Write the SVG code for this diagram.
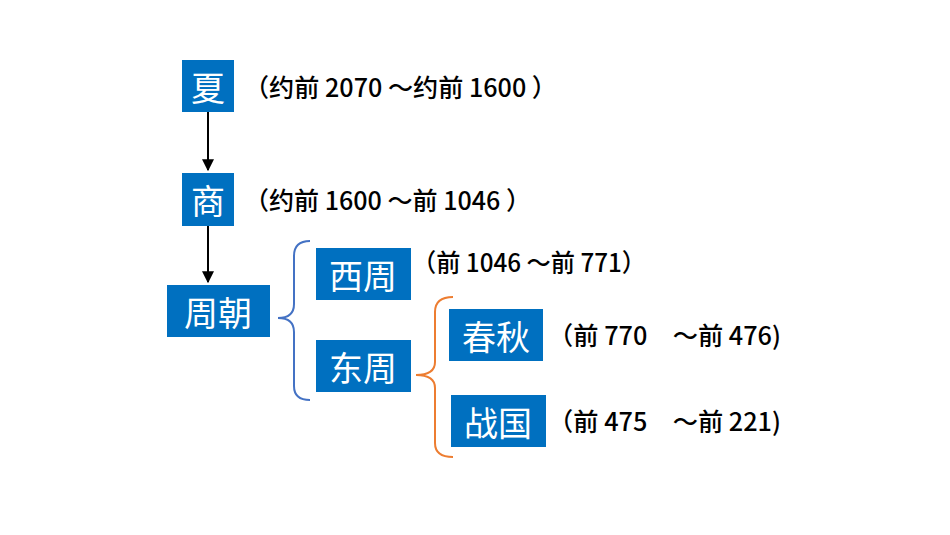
<svg xmlns="http://www.w3.org/2000/svg" width="950" height="535" viewBox="0 0 950 535">
<defs>
<style>
.box{fill:#0070C0}
.bt{fill:#fff;font-family:"Noto Sans CJK SC",serif;font-size:34px;text-anchor:middle;dominant-baseline:central}
.lt{fill:#000;font-family:"Noto Sans CJK SC","Liberation Sans",sans-serif;font-size:25px;font-weight:500;dominant-baseline:central}
.ar{stroke:#000;stroke-width:2;fill:none}
</style>
<marker id="ah" viewBox="0 0 10 10" refX="9" refY="5" markerWidth="6" markerHeight="6" orient="auto"><path d="M0,0L10,5L0,10z" fill="#000"/></marker>
</defs>
<rect width="950" height="535" fill="#fff"/>
<g id="xia"><rect class="box" x="182" y="60" width="52" height="52"/><text class="bt" x="208" y="86">夏</text><text class="lt" x="244" y="86" textLength="313" lengthAdjust="spacingAndGlyphs">（约前 2070 ～约前 1600 ）</text></g>
<g id="shang"><rect class="box" x="182" y="173" width="52" height="53"/><text class="bt" x="208" y="199">商</text><text class="lt" x="244" y="199" textLength="287" lengthAdjust="spacingAndGlyphs">（约前 1600 ～前 1046 ）</text></g>
<g id="zhouchao"><rect class="box" x="167" y="285" width="103" height="52"/><text class="bt" x="218" y="311">周朝</text></g>
<g id="xizhou"><rect class="box" x="316" y="248" width="95" height="52"/><text class="bt" x="363" y="274">西周</text><text class="lt" x="412" y="261" textLength="234" lengthAdjust="spacingAndGlyphs">（前 1046 ～前 771）</text></g>
<g id="dongzhou"><rect class="box" x="316" y="340" width="95" height="52"/><text class="bt" x="363" y="366">东周</text></g>
<g id="chunqiu"><rect class="box" x="449" y="309" width="94" height="52"/><text class="bt" x="496" y="335">春秋</text><text class="lt" x="548" y="334" textLength="233" lengthAdjust="spacingAndGlyphs">（前 770　～前 476)</text></g>
<g id="zhanguo"><rect class="box" x="451" y="395" width="95" height="52"/><text class="bt" x="498" y="421">战国</text><text class="lt" x="548" y="420" textLength="233" lengthAdjust="spacingAndGlyphs">（前 475　～前 221)</text></g>
<g id="connectors">
<line class="ar" x1="208" y1="112" x2="208" y2="170" marker-end="url(#ah)"/>
<line class="ar" x1="208" y1="226" x2="208" y2="282" marker-end="url(#ah)"/>
<path d="M310,241 Q294,241 294,256 L294,304 Q294,318 278,318 Q294,318 294,332 L294,386 Q294,400 310,400" fill="none" stroke="#4472C4" stroke-width="2"/>
<path d="M453,297 Q435,297 435,312 L435,362 Q435,375 416,375 Q435,375 435,388 L435,443 Q435,457 453,457" fill="none" stroke="#ED7D31" stroke-width="2"/>
</g>
</svg>
